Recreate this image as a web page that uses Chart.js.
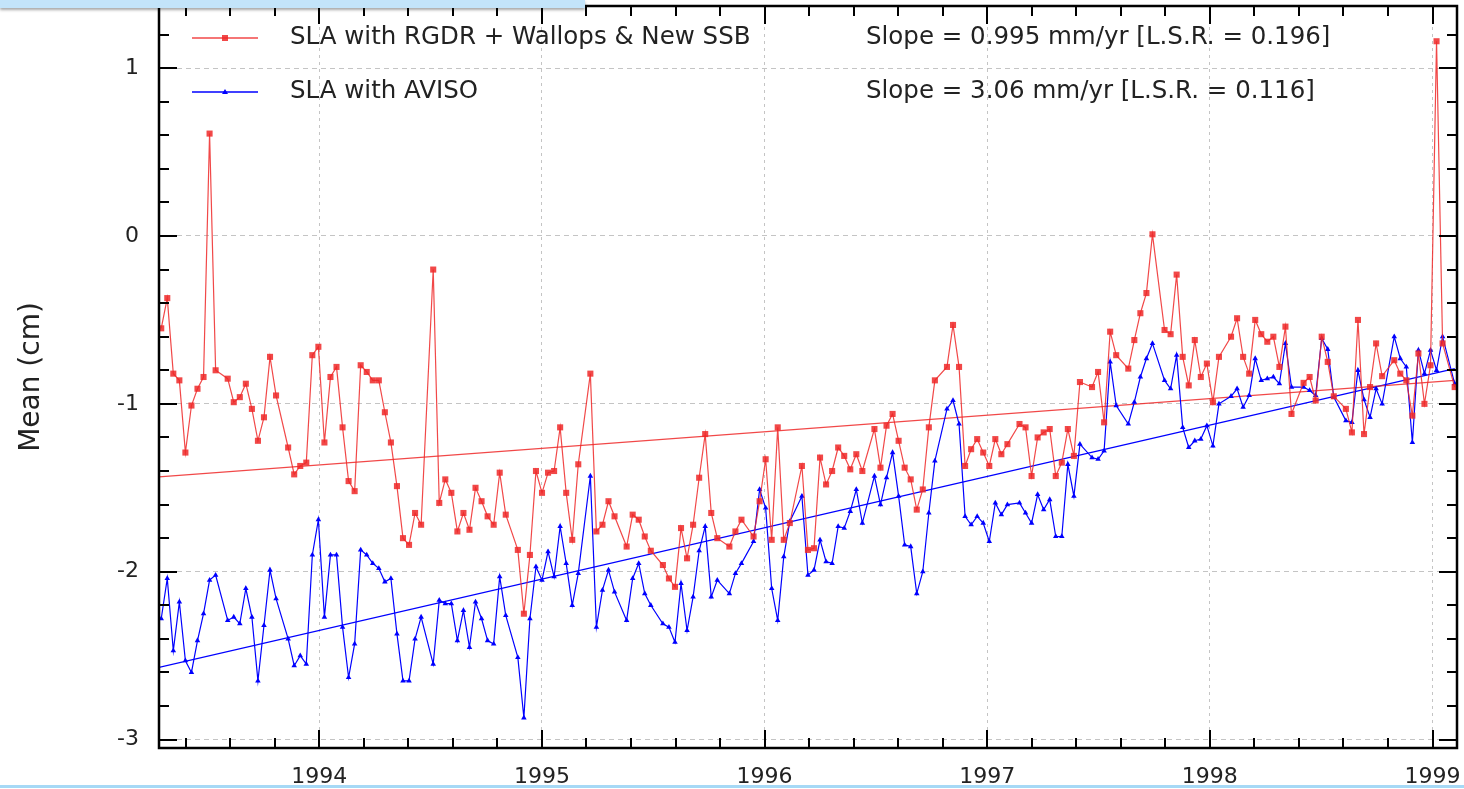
<!DOCTYPE html>
<html lang="en">
  <head>
    <meta charset="UTF-8" />
    <title>Mean SLA</title>
    <script src="https://cdn.jsdelivr.net/npm/chart.js"></script>
    <style>
      html, body { margin: 0; padding: 0; background: #fff; }
      #wrap { position: relative; width: 1464px; height: 789px; overflow: hidden; }
      #topbar { position: absolute; left: 0; top: 0; width: 585px; height: 8px; background: #c3e4fa; box-shadow: 0 2px 3px rgba(0,0,0,0.35); }
      #bottomline { position: absolute; left: 0; top: 785px; width: 1464px; height: 3px; background: #a6d9f6; }
    </style>
  </head>
  <body>
    <div id="wrap">
      <canvas id="slaChart" width="1464" height="789"></canvas>
      <div id="topbar"></div>
      <div id="bottomline"></div>
    </div>

    <script>
      // TOPEX cycles (~9.9156 days); null = no marker read at that cycle
      const firstCycleYear = 1993.29;
      const cycleDays = 9.9156;

      // SLA with RGDR + Wallops & New SSB (cm)
      const redSLA = [
        -0.55, -0.37, -0.82, -0.86, -1.29, -1.01, -0.91, -0.84, 0.61, -0.80,
        null, -0.85, -0.99, -0.96, -0.88, -1.03, -1.22, -1.08, -0.72, -0.95,
        null, -1.26, -1.42, -1.37, -1.35, -0.71, -0.66, -1.23, -0.84, -0.78,
        -1.14, -1.46, -1.52, -0.77, -0.81, -0.86, -0.86, -1.05, -1.23, -1.49,
        -1.80, -1.84, -1.65, -1.72, null, -0.20, -1.59, -1.45, -1.53, -1.76,
        -1.65, -1.75, -1.50, -1.58, -1.67, -1.72, -1.41, -1.66, null, -1.87,
        -2.25, -1.90, -1.40, -1.53, -1.41, -1.40, -1.14, -1.53, -1.81, -1.36,
        null, -0.82, -1.76, -1.72, -1.58, -1.67, null, -1.85, -1.66, -1.69,
        -1.79, -1.875, null, -1.96, -2.04, -2.09, -1.74, -1.92, -1.72, -1.44,
        -1.18, -1.65, -1.80, null, -1.85, -1.76, -1.69, null, -1.79, -1.58,
        -1.33, -1.81, -1.14, -1.81, -1.71, null, -1.37, -1.87, -1.86, -1.32,
        -1.48, -1.40, -1.26, -1.31, -1.39, -1.30, -1.40, null, -1.15, -1.38,
        -1.13, -1.06, -1.22, -1.38, -1.45, -1.63, -1.51, -1.14, -0.86, null,
        -0.78, -0.53, -0.78, -1.37, -1.27, -1.21, -1.29, -1.37, -1.21, -1.30,
        -1.24, null, -1.12, -1.14, -1.43, -1.20, -1.17, -1.15, -1.43, -1.35,
        -1.15, -1.31, -0.87, null, -0.90, -0.81, -1.11, -0.57, -0.71, null,
        -0.79, -0.62, -0.46, -0.34, 0.01, null, -0.56, -0.585, -0.23, -0.72,
        -0.89, -0.62, -0.84, -0.76, -0.99, -0.72, null, -0.60, -0.49, -0.72,
        -0.82, -0.50, -0.585, -0.63, -0.60, -0.78, -0.54, -1.06, null, -0.875,
        -0.84, -0.98, -0.60, -0.75, -0.955, null, -1.03, -1.17, -0.50, -1.18,
        -0.90, -0.64, -0.835, null, -0.74, -0.82, -0.86, -1.07, -0.70, -1.00,
        -0.77, 1.16, -0.64, null, -0.90
      ];

      // SLA with AVISO (cm)
      const blueSLA = [
        -2.28, -2.04, -2.47, -2.18, -2.53, -2.60, -2.41, -2.25, -2.05, -2.02,
        null, -2.29, -2.27, -2.31, -2.10, -2.27, -2.65, -2.32, -1.99, -2.16,
        null, -2.40, -2.56, -2.50, -2.55, -1.90, -1.69, -2.27, -1.90, -1.90,
        -2.33, -2.63, -2.43, -1.87, -1.90, -1.95, -1.98, -2.06, -2.04, -2.37,
        -2.65, -2.65, -2.40, -2.27, null, -2.55, -2.17, -2.19, -2.19, -2.41,
        -2.23, -2.45, -2.18, -2.28, -2.41, -2.43, -2.03, -2.26, null, -2.51,
        -2.87, -2.28, -1.97, -2.05, -1.88, -2.03, -1.73, -1.95, -2.20, -2.01,
        null, -1.43, -2.33, -2.11, -1.99, -2.12, null, -2.29, -2.04, -1.95,
        -2.13, -2.20, null, -2.31, -2.33, -2.42, -2.07, -2.35, -2.15, -1.875,
        -1.73, -2.15, -2.05, null, -2.13, -2.01, -1.95, null, -1.82, -1.51,
        -1.62, -2.10, -2.29, -1.91, -1.70, null, -1.55, -2.02, -1.99, -1.81,
        -1.94, -1.95, -1.73, -1.74, -1.64, -1.51, -1.71, null, -1.43, -1.60,
        -1.44, -1.29, -1.55, -1.84, -1.85, -2.13, -2.00, -1.65, -1.34, null,
        -1.03, -0.98, -1.12, -1.67, -1.72, -1.67, -1.71, -1.82, -1.59, -1.66,
        -1.60, null, -1.59, -1.65, -1.71, -1.54, -1.63, -1.57, -1.79, -1.79,
        -1.36, -1.55, -1.24, null, -1.32, -1.33, -1.28, -0.75, -1.01, null,
        -1.12, -0.99, -0.84, -0.73, -0.64, null, -0.86, -0.91, -0.71, -1.14,
        -1.26, -1.22, -1.21, -1.13, -1.25, -1.00, null, -0.955, -0.91, -1.02,
        -0.95, -0.73, -0.86, -0.85, -0.84, -0.88, -0.64, -0.90, null, -0.90,
        -0.92, -0.95, -0.61, -0.675, -0.96, null, -1.10, -1.11, -0.80, -0.975,
        -1.08, -0.91, -1.00, null, -0.60, -0.73, -0.78, -1.23, -0.68, -0.82,
        -0.68, -0.80, -0.60, null, -0.88
      ];

      // least-squares trend lines, end points
      const trendYears = [1993.28, 1999.1];
      const redTrend = [-1.435, -0.86];
      const blueTrend = [-2.57, -0.79];

      const legendLabels = ["SLA with RGDR + Wallops & New SSB", "SLA with AVISO"];
      const slopeLabels = [
        "Slope = 0.995 mm/yr [L.S.R. = 0.196]",
        "Slope = 3.06 mm/yr [L.S.R. = 0.116]",
      ];

      const RED = "rgba(238, 40, 40, 0.85)";
      const BLUE = "#0000ff";
      const FONT = "'DejaVu Sans', sans-serif";

      const toPoints = (vals) =>
        vals.map((v, i) => ({ x: firstCycleYear + (i * cycleDays) / 365.25, y: v }));
      const toTrend = (vals) => vals.map((v, i) => ({ x: trendYears[i], y: v }));

      // drop the automatic label padding so the plot box fills the page
      const noPad = (s) => {
        s.paddingTop = 0;
        s.paddingBottom = 0;
        s.paddingLeft = 0;
        s.paddingRight = 0;
      };

      // inward ticks, frame and legend
      const framePlugin = {
        id: "frame",
        afterDraw(chart) {
          const { ctx, chartArea: a } = chart;
          const xs = chart.scales.x;
          const ys = chart.scales.y;
          ctx.save();
          ctx.strokeStyle = "#000";
          ctx.lineWidth = 2;
          ctx.beginPath();
          for (let k = 0; k <= 35; k++) {
            const v = 1993 + k * 0.2;
            if (v < xs.min || v > xs.max) continue;
            const px = Math.round(xs.getPixelForValue(v));
            const len = k % 5 === 0 ? 18 : 10;
            ctx.moveTo(px, a.bottom);
            ctx.lineTo(px, a.bottom - len);
            ctx.moveTo(px, a.top);
            ctx.lineTo(px, a.top + len);
          }
          for (let k = 0; k <= 25; k++) {
            const v = -3.2 + k * 0.2;
            if (v < ys.min || v > ys.max) continue;
            const py = Math.round(ys.getPixelForValue(v));
            const len = k % 5 === 1 ? 18 : 10;
            ctx.moveTo(a.left, py);
            ctx.lineTo(a.left + len, py);
            ctx.moveTo(a.right, py);
            ctx.lineTo(a.right - len, py);
          }
          ctx.stroke();
          ctx.lineWidth = 2.5;
          ctx.strokeRect(a.left, a.top, a.right - a.left, a.bottom - a.top);

          // legend
          const rows = [
            { y: a.top + 32, color: RED, marker: "rect" },
            { y: a.top + 86, color: BLUE, marker: "tri" },
          ];
          ctx.font = "24.5px " + FONT;
          ctx.textBaseline = "middle";
          rows.forEach((r, i) => {
            ctx.strokeStyle = r.color;
            ctx.fillStyle = r.color;
            ctx.lineWidth = 1.3;
            ctx.beginPath();
            ctx.moveTo(a.left + 33, r.y);
            ctx.lineTo(a.left + 99, r.y);
            ctx.stroke();
            const mx = a.left + 66;
            if (r.marker === "rect") {
              ctx.fillRect(mx - 3, r.y - 3, 6, 6);
            } else {
              ctx.beginPath();
              ctx.moveTo(mx, r.y - 3);
              ctx.lineTo(mx + 3, r.y + 2);
              ctx.lineTo(mx - 3, r.y + 2);
              ctx.closePath();
              ctx.fill();
            }
            ctx.fillStyle = "#222";
            ctx.fillText(legendLabels[i], a.left + 131, r.y);
            ctx.fillText(slopeLabels[i], a.left + 707, r.y);
          });
          ctx.restore();
        },
      };

      new Chart(document.getElementById("slaChart"), {
        type: "line",
        data: {
          datasets: [
            {
              label: legendLabels[0],
              data: toPoints(redSLA),
              borderColor: RED,
              backgroundColor: RED,
              borderWidth: 1.2,
              pointStyle: "rect",
              pointRadius: 4.3,
              pointBorderWidth: 0,
              spanGaps: true,
            },
            {
              label: legendLabels[1],
              data: toPoints(blueSLA),
              borderColor: BLUE,
              backgroundColor: BLUE,
              borderWidth: 1.2,
              pointStyle: "triangle",
              pointRadius: 3.2,
              pointBorderWidth: 0,
              spanGaps: true,
            },
            {
              label: "trend red",
              data: toTrend(redTrend),
              borderColor: RED,
              borderWidth: 1.3,
              pointRadius: 0,
            },
            {
              label: "trend blue",
              data: toTrend(blueTrend),
              borderColor: BLUE,
              borderWidth: 1.3,
              pointRadius: 0,
            },
          ],
        },
        options: {
          responsive: false,
          animation: false,
          layout: { padding: { top: 6, right: 7, left: 0, bottom: 0 } },
          plugins: { legend: { display: false }, tooltip: { enabled: false } },
          scales: {
            x: {
              type: "linear",
              min: 1993.28,
              max: 1999.11,
              ticks: {
                stepSize: 1,
                includeBounds: false,
                callback: (v) => String(v),
                font: { family: FONT, size: 22 },
                color: "#222",
                padding: 16,
                maxRotation: 0,
              },
              grid: { color: "#c4c4c4", drawTicks: false, lineWidth: 1 },
              border: { display: false, dash: [3, 4] },
              afterFit: (s) => { s.height = 41; noPad(s); },
            },
            y: {
              min: -3.05,
              max: 1.37,
              ticks: {
                stepSize: 1,
                includeBounds: false,
                font: { family: FONT, size: 22 },
                color: "#222",
                padding: 20,
              },
              grid: { color: "#c4c4c4", drawTicks: false, lineWidth: 1 },
              border: { display: false, dash: [5, 4] },
              title: {
                display: true,
                text: "Mean (cm)",
                font: { family: FONT, size: 28 },
                color: "#222",
                padding: { top: 15 },
              },
              afterFit: (s) => { s.width = 159; noPad(s); },
            },
          },
        },
        plugins: [framePlugin],
      });
    </script>
  </body>
</html>
